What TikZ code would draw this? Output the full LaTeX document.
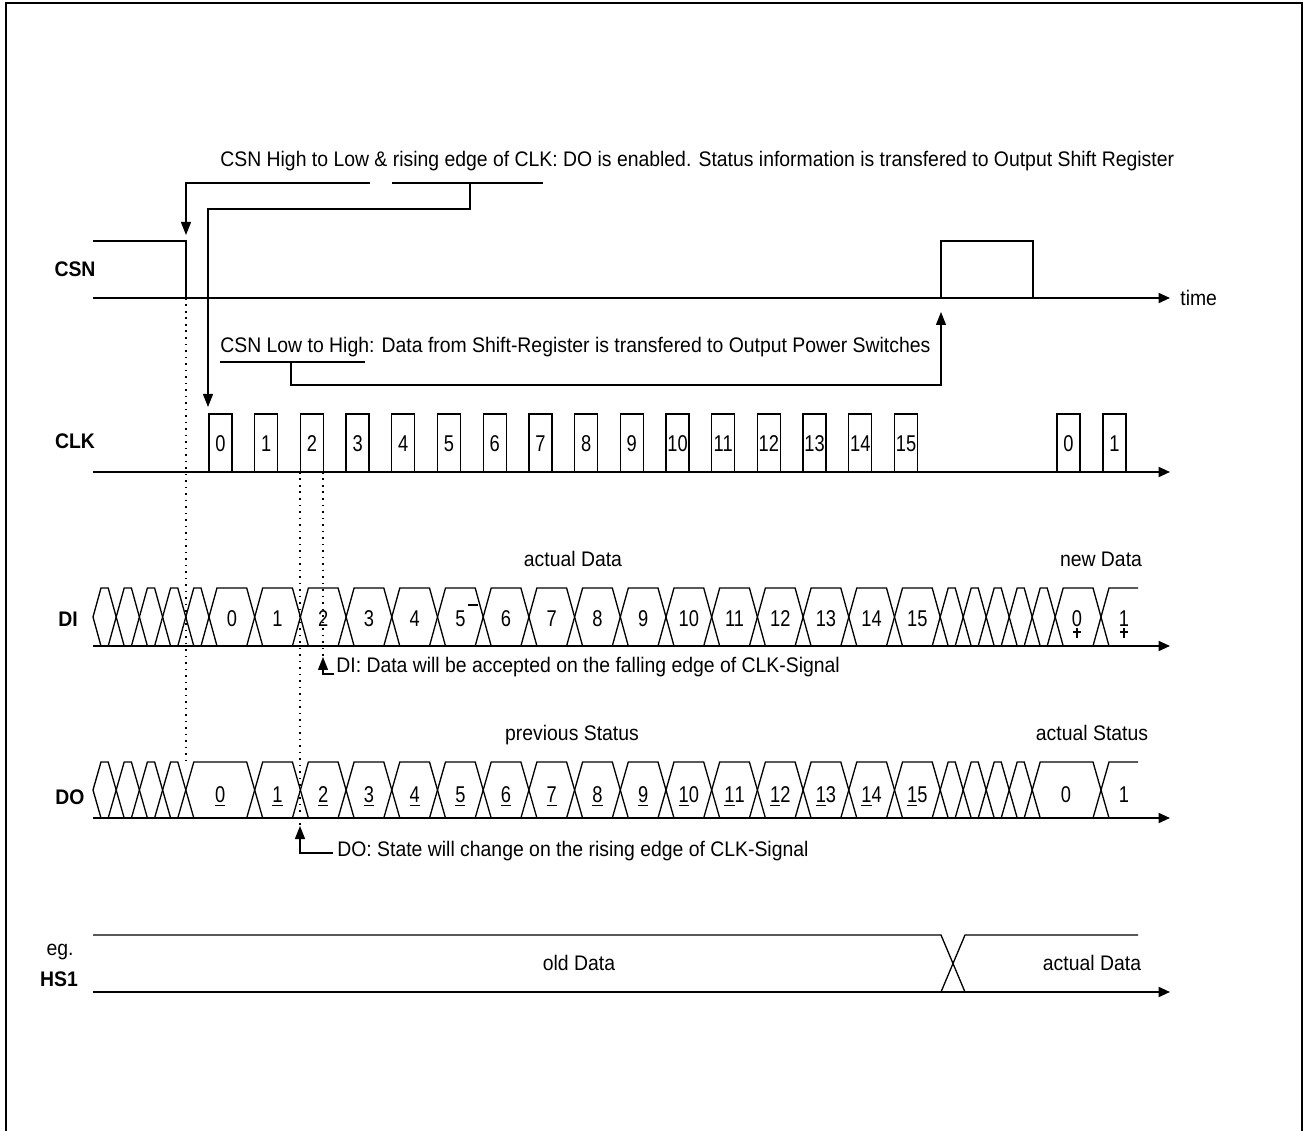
\documentclass[tikz,border=0pt]{standalone}
\usepackage{fontspec}
\setmainfont[FakeStretch=0.92]{Liberation Sans}
\newfontfamily\digfont[FakeStretch=0.8]{Liberation Sans}
\usetikzlibrary{arrows.meta}
\tikzset{sig/.style = {line width=0.75pt}}
\tikzset{axis/.style = {line width=1.1pt, -{Triangle[length=6.5pt,width=5.7pt]}}}
\tikzset{note/.style = {line width=0.75pt, -{Triangle[length=7.4pt,width=5.7pt]}}}
\tikzset{guide/.style = {line width=0.7pt, dash pattern=on 1.1pt off 2.6pt}}
\tikzset{txt/.style = {font=\fontsize{12}{14}\selectfont, inner sep=0pt, anchor=base west}}
\tikzset{ctxt/.style = {font=\fontsize{12}{14}\selectfont, inner sep=0pt, anchor=base}}
\tikzset{digit/.style = {font=\digfont\fontsize{13}{15}\selectfont, inner sep=0pt, anchor=base}}
\tikzset{sname/.style = {font=\bfseries\fontsize{12}{14}\selectfont, inner sep=0pt, anchor=base}}

\begin{document}
\begin{tikzpicture}[x=0.02cm,y=-0.02cm]
    \useasboundingbox (0,0) rectangle (1306,1131);
    \draw[line width=1.3pt] (6,1131) -- (6,3) -- (1302,3) -- (1302,1131);
    % signal names
    \node[sname] (csn) at (75,277) {CSN};
    \node[sname] (clk) at (75,449) {CLK};
    \node[sname] (di) at (68,627) {DI};
    \node[sname] (do) at (70,805) {DO};
    \node[ctxt] (eg) at (60,955) {eg.};
    \node[sname] (hs) at (59,986) {HS1};
    % CSN
    \draw[sig] (93,241) -- (186,241) -- (186,298);
    \draw[sig] (941,298) -- (941,241) -- (1033,241) -- (1033,298);
    \draw[axis] (93,298) -- (1170,298);
    \node[txt] (time) at (1180,306) {time};
    % CLK
    \draw[axis] (93,472) -- (1170,472);
    \foreach \i in {0,...,15} {
        \pgfmathsetmacro\xa{209+45.7*\i}
        \draw[sig] (\xa,472) -- (\xa,414) -- ({\xa+23},414) -- ({\xa+23},472);
        \node[digit] (clk\i) at ({\xa+11.5},452) {\i};
    }
    \foreach \xa/\t in {1057/0, 1103/1} {
        \draw[sig] (\xa,472) -- (\xa,414) -- ({\xa+23},414) -- ({\xa+23},472);
        \node[digit] (clkn\t) at ({\xa+11.5},452) {\t};
    }
    % DI
    \draw[axis] (93,646) -- (1170,646);
    \foreach \a/\b in {93/116.2, 116.2/139.4, 139.4/162.6, 162.6/185.8, 185.8/209,
                       940.2/963.2, 963.2/986.2, 986.2/1009.2, 1009.2/1032.2, 1032.2/1055.2, 1055.2/1101} {
        \draw[sig] (\a,617) -- ({\a+8},588) -- ({\b-8},588) -- (\b,617) -- ({\b-8},646) -- ({\a+8},646) -- cycle;
    }
    \foreach \i in {0,...,15} {
        \pgfmathsetmacro\xa{209+45.7*\i}
        \draw[sig] (\xa,617) -- ({\xa+8},588) -- ({\xa+37.7},588) -- ({\xa+45.7},617) -- ({\xa+37.7},646) -- ({\xa+8},646) -- cycle;
        \node[digit] (di\i) at ({\xa+22.85},627) {\i};
    }
    \draw[sig] (1138,588) -- (1109,588) -- (1101,617) -- (1109,646);
    \draw[sig] (468,605) -- (478,605);
    \node[digit] (din0) at (1077,627) {0};
    \node[digit] (din1) at (1124,627) {1};
    \foreach \x in {1077, 1124} {
        \draw[sig] (\x,628) -- (\x,638);
        \draw[sig] ({\x-4},632) -- ({\x+4},632);
    }
    \node[ctxt] (dinow) at (573,567) {actual Data};
    \node[ctxt] (dinew) at (1101,567) {new Data};
    % DO
    \draw[axis] (93,818) -- (1170,818);
    \foreach \a/\b in {93/116.2, 116.2/139.4, 139.4/162.6, 162.6/185.8,
                       940.2/963.2, 963.2/986.2, 986.2/1009.2, 1009.2/1032.2, 1032.2/1101, 185.8/254.7} {
        \draw[sig] (\a,790) -- ({\a+8},762) -- ({\b-8},762) -- (\b,790) -- ({\b-8},818) -- ({\a+8},818) -- cycle;
    }
    \foreach \i in {1,...,15} {
        \pgfmathsetmacro\xa{209+45.7*\i}
        \draw[sig] (\xa,790) -- ({\xa+8},762) -- ({\xa+37.7},762) -- ({\xa+45.7},790) -- ({\xa+37.7},818) -- ({\xa+8},818) -- cycle;
    }
    \draw[sig] (1138,762) -- (1109,762) -- (1101,790) -- (1109,818);
    \foreach \i/\t in {0/\underline{0}, 1/\underline{1}, 2/\underline{2}, 3/\underline{3}, 4/\underline{4},
                       5/\underline{5}, 6/\underline{6}, 7/\underline{7}, 8/\underline{8}, 9/\underline{9},
                       10/\underline{1}0, 11/\underline{1}1, 12/\underline{1}2, 13/\underline{1}3,
                       14/\underline{1}4, 15/\underline{1}5} {
        \pgfmathsetmacro\xm{ifthenelse(\i==0,220.2,209+45.7*\i+22.85)}
        \node[digit] (do\i) at (\xm,803) {\t};
    }
    \node[digit] (don0) at (1066,803) {0};
    \node[digit] (don1) at (1124,803) {1};
    \node[ctxt] (doold) at (572,741) {previous Status};
    \node[ctxt] (donow) at (1092,741) {actual Status};
    % HS1
    \draw[sig] (93,935) -- (941,935) -- (965,992);
    \draw[sig] (941,992) -- (965,935) -- (1138,935);
    \draw[axis] (93,992) -- (1170,992);
    \node[ctxt] (hsold) at (579,970) {old Data};
    \node[ctxt] (hsnow) at (1092,970) {actual Data};
    % dotted guides
    \draw[guide] (186,298) -- (186,760);
    \draw[guide] (300,472) -- (300,826);
    \draw[guide] (323,472) -- (323,657);
    % notes
    \node[txt] (info1) at (220,167) {CSN High to Low \& rising edge of CLK: DO is enabled. Status information is transfered to Output Shift Register};
    \node[txt] (info2) at (220,353) {CSN Low to High: Data from Shift-Register is transfered to Output Power Switches};
    \node[txt] (info3) at (336,673) {DI: Data will be accepted on the falling edge of CLK-Signal};
    \node[txt] (info4) at (337,857) {DO: State will change on the rising edge of CLK-Signal};
    \coordinate (u1) at (370,183);
    \coordinate (k1) at (186,183);
    \coordinate (csnhl) at (186,235);
    \draw[note] (u1) -- (k1) -- (csnhl);
    \draw[sig] (392,183) -- (543,183);
    \coordinate (u2) at (470,183);
    \coordinate (k2) at (470,209);
    \coordinate (k3) at (208,209);
    \coordinate (clkup) at (208,407);
    \draw[note] (u2) -- (k2) -- (k3) -- (clkup);
    \draw[sig] (220,362) -- (365,362);
    \coordinate (u3) at (291,362);
    \coordinate (k4) at (291,385);
    \coordinate (k5) at (941,385);
    \coordinate (csnlh) at (941,312);
    \draw[note] (u3) -- (k4) -- (k5) -- (csnlh);
    \coordinate (u4) at (334,674);
    \coordinate (k6) at (323,674);
    \coordinate (difall) at (323,657);
    \draw[note] (u4) -- (k6) -- (difall);
    \coordinate (u5) at (333,853);
    \coordinate (k7) at (300,853);
    \coordinate (dorise) at (300,826);
    \draw[note] (u5) -- (k7) -- (dorise);
\end{tikzpicture}
\end{document}
